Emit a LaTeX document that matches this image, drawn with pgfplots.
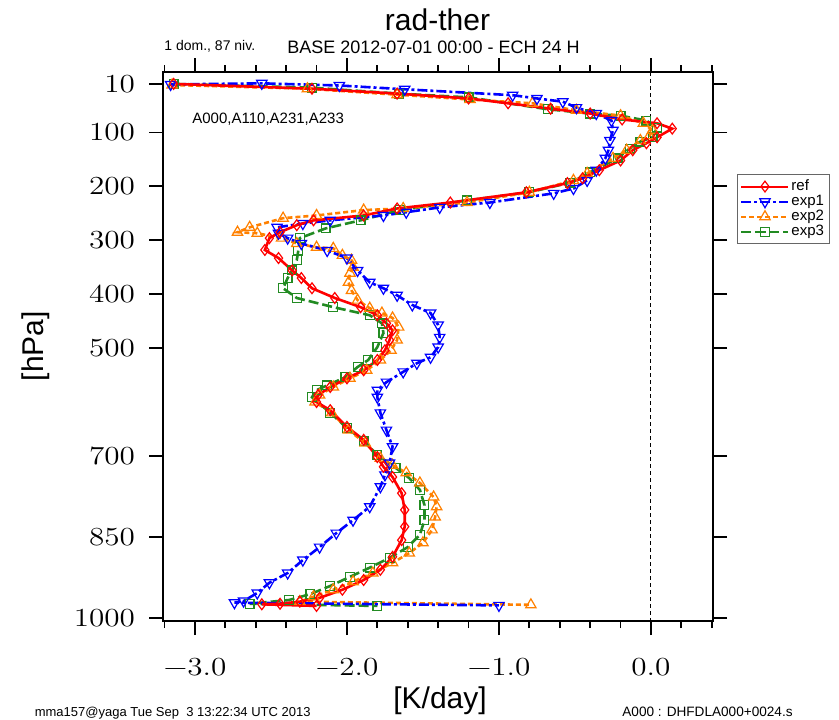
\documentclass[border=0pt]{standalone}
\usepackage{pgfplots}
\pgfplotsset{compat=1.18}
\usepackage{fontspec}
\setmainfont{Liberation Sans}
\usepackage{graphicx}

\definecolor{cref}{RGB}{255,0,0}
\definecolor{cexpa}{RGB}{0,0,255}
\definecolor{cexpb}{RGB}{255,128,0}
\definecolor{cexpc}{RGB}{34,139,34}

% tick labels: Latin Modern, a bit wider than usual
\newcommand{\tl}[1]{\scalebox{1.2}[1]{\fontfamily{lmr}\selectfont #1}}

\begin{document}
\begin{tikzpicture}
\begin{scope}[x=0.5pt,y=-0.5pt]
\useasboundingbox (0,0) rectangle (839,719);
\end{scope}
\begin{axis}[
  at={(81.5pt,-310.5pt)}, anchor=south west,
  scale only axis, width=275pt, height=274.5pt,
  xmin=-3.21, xmax=0.408,
  ymin=-12, ymax=1006, y dir=reverse,
  xtick={-3,-2,-1,0},
  xticklabels={\tl{−3.0},\tl{−2.0},\tl{−1.0},\tl{0.0}},
  minor xtick={-3.2,-2.8,-2.6,-2.4,-2.2,-1.8,-1.6,-1.4,-1.2,-0.8,-0.6,-0.4,-0.2,0.2,0.4},
  ytick={10,100,200,300,400,500,700,850,1000},
  yticklabels={\tl{10},\tl{100},\tl{200},\tl{300},\tl{400},\tl{500},\tl{700},\tl{850},\tl{1000}},
  tick align=outside, major tick length=7pt, minor tick length=3.5pt,
  every tick/.style={black, line width=0.9pt},
  axis line style={line width=0.8pt},
  ticklabel style={font=\fontsize{13}{13}\selectfont},
  xticklabel style={yshift=-8pt},
  yticklabel style={xshift=-3.5pt},
  reverse legend,
  legend style={at={(1.0436,0.814)}, anchor=north west,
    draw=black!60, line width=0.5pt,
    font=\fontsize{7.5}{8}\selectfont,
    inner sep=1.5pt, row sep=-1.2pt,
    nodes={inner sep=1pt},
    cells={anchor=west}},
  legend image code/.code={
    \draw[mark repeat=2,mark phase=2,line width=1pt]
      plot coordinates {(0pt,0pt) (11.75pt,0pt) (23.5pt,0pt)};},
]
\draw[black, line width=0.5pt, dash pattern=on 2pt off 1.5pt]
  (axis cs:0,-12) -- (axis cs:0,1006);

% exp3
\addplot[cexpc, line width=1.3pt, dash pattern=on 5pt off 2pt,
  mark=square, mark size=2.2pt, mark options={solid, line width=0.6pt}]
coordinates {
(-3.14,10) (-2.23,17) (-1.66,28) (-1.20,35) (-0.68,57) (-0.40,65) (-0.20,69)
(-0.03,78) (0.04,91) (0.01,109) (-0.07,117) (-0.14,130) (-0.22,148) (-0.40,174)
(-0.53,193) (-0.80,211) (-1.21,226) (-1.65,244) (-1.91,263) (-2.14,278) (-2.31,296)
(-2.32,319) (-2.33,337) (-2.36,356) (-2.39,370) (-2.42,389) (-2.33,407) (-2.09,424)
(-1.85,439) (-1.77,454) (-1.76,472) (-1.80,498) (-1.86,522) (-1.93,535) (-2.01,554)
(-2.13,569) (-2.20,578) (-2.23,591) (-2.11,620) (-2.00,648) (-1.89,672) (-1.80,698)
(-1.68,722) (-1.59,741) (-1.52,763) (-1.49,791) (-1.49,819) (-1.52,846) (-1.60,869)
(-1.72,889) (-1.85,907) (-1.98,924) (-2.11,941) (-2.24,956) (-2.38,967) (-2.64,974)
(-1.80,978)
};
\addlegendentry{exp3}

% exp2
\addplot[cexpb, line width=1.3pt, dash pattern=on 2.5pt off 1.5pt,
  mark=triangle, mark size=3pt, mark options={solid, line width=0.6pt}]
coordinates {
(-3.15,12) (-2.26,19) (-1.67,30) (-1.19,39) (-0.78,46) (-0.49,59) (-0.20,69)
(-0.05,83) (0.01,96) (-0.01,106) (-0.07,115) (-0.16,133) (-0.25,148) (-0.42,176)
(-0.51,189) (-0.80,211) (-1.21,230) (-1.63,241) (-1.89,244) (-2.20,254) (-2.42,259)
(-2.64,276) (-2.72,285) (-2.59,287) (-2.43,296) (-2.33,306) (-2.20,313) (-2.09,315)
(-2.03,328) (-1.97,337) (-1.96,350) (-1.98,361) (-1.99,378) (-1.97,393) (-1.93,411)
(-1.85,426) (-1.77,435) (-1.70,444) (-1.66,461) (-1.67,485) (-1.71,504) (-1.78,522)
(-1.87,541) (-1.98,556) (-2.09,572) (-2.18,587) (-2.21,600) (-2.10,620) (-1.99,652)
(-1.88,676) (-1.78,704) (-1.70,717) (-1.61,731) (-1.52,750) (-1.43,776) (-1.41,794)
(-1.42,813) (-1.44,837) (-1.50,861) (-1.59,880) (-1.70,898) (-1.83,917) (-1.96,933)
(-2.09,948) (-2.22,961) (-2.31,970) (-0.79,976)
};
\addlegendentry{exp2}

% exp1
\addplot[cexpa, line width=1.3pt, dash pattern=on 5pt off 1.5pt on 1.5pt off 1.5pt,
  mark=triangle, mark size=3pt, mark options={solid, rotate=180, line width=0.6pt}]
coordinates {
(-3.16,11) (-2.56,9) (-2.05,13) (-1.62,20) (-0.91,31) (-0.75,37) (-0.58,43)
(-0.49,54) (-0.36,65) (-0.26,78) (-0.25,96) (-0.27,115) (-0.28,133) (-0.30,148)
(-0.36,170) (-0.42,189) (-0.51,204) (-0.64,213) (-1.06,230) (-1.39,239) (-1.61,248)
(-1.76,254) (-2.11,263) (-2.29,269) (-2.46,276) (-2.45,287) (-2.39,296) (-2.30,306)
(-2.13,319) (-2.00,333) (-1.93,356) (-1.85,378) (-1.76,389) (-1.67,402) (-1.57,420)
(-1.45,435) (-1.40,457) (-1.39,480) (-1.40,498) (-1.45,517) (-1.54,528) (-1.63,544)
(-1.74,563) (-1.80,578) (-1.80,591) (-1.78,620) (-1.74,652) (-1.70,683) (-1.72,713)
(-1.75,735) (-1.78,757) (-1.85,794) (-1.96,819) (-2.07,843) (-2.18,869) (-2.29,893)
(-2.39,917) (-2.51,935) (-2.59,954) (-2.68,969) (-2.74,972) (-1.00,977)
};
\addlegendentry{exp1}

% ref
\addplot[cref, line width=1.3pt,
  mark=diamond, mark size=2.7pt, mark options={solid, line width=0.6pt}]
coordinates {
(-3.14,10) (-2.23,19) (-1.67,28) (-1.20,37) (-0.94,46) (-0.66,56) (-0.40,65)
(-0.19,76) (0.04,83) (0.14,93) (0.04,109) (-0.03,120) (-0.12,133) (-0.20,152)
(-0.34,170) (-0.45,185) (-0.55,194) (-0.82,211) (-1.32,230) (-1.67,241) (-1.89,254)
(-2.22,263) (-2.33,272) (-2.44,285) (-2.51,296) (-2.54,318) (-2.45,333) (-2.36,356)
(-2.30,370) (-2.23,389) (-2.08,407) (-1.91,424) (-1.80,439) (-1.74,454) (-1.70,467)
(-1.72,485) (-1.75,504) (-1.80,522) (-1.89,541) (-2.00,556) (-2.11,572) (-2.19,587)
(-2.20,600) (-2.11,615) (-2.00,646) (-1.89,670) (-1.80,702) (-1.76,720) (-1.70,739)
(-1.64,769) (-1.62,800) (-1.62,831) (-1.64,856) (-1.70,887) (-1.78,911) (-1.89,930)
(-2.03,948) (-2.18,963) (-2.31,970) (-2.44,974) (-2.56,975) (-2.20,978)
};
\addlegendentry{ref}
\end{axis}

\begin{scope}[x=0.5pt,y=-0.5pt]
\node[anchor=base, font=\fontsize{15}{15}\selectfont, inner sep=0] at (437.5,30) {rad-ther};
\node[anchor=base west, font=\fontsize{7}{7}\selectfont, inner sep=0] at (164,50) {1 dom., 87 niv.};
\node[anchor=base west, font=\fontsize{9}{9}\selectfont, inner sep=0] at (287,53) {BASE 2012-07-01 00:00 - ECH 24 H};
\node[anchor=base west, font=\fontsize{7.5}{7.5}\selectfont, inner sep=0] at (192,123) {A000,A110,A231,A233};
\node[rotate=90, font=\fontsize{15}{15}\selectfont, inner sep=0] at (36,346) {[hPa]};
\node[anchor=base, font=\fontsize{15}{15}\selectfont, inner sep=0] at (440,708) {[K/day]};
\node[anchor=base east, font=\fontsize{6.5}{6.5}\selectfont, inner sep=0] at (311,716) {mma157@yaga Tue Sep\ \ 3 13:22:34 UTC 2013};
\node[anchor=base west, font=\fontsize{6.8}{6.8}\selectfont, inner sep=0] at (622,716) {A000 : DHFDLA000+0024.s};
\end{scope}
\end{tikzpicture}
\end{document}
